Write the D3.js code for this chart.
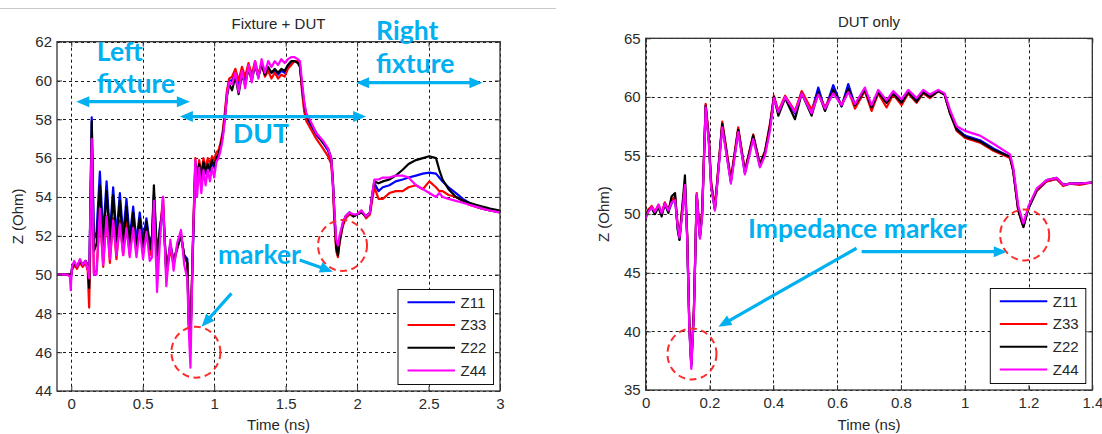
<!DOCTYPE html>
<html>
<head>
<meta charset="utf-8">
<script src="https://cdn.jsdelivr.net/npm/d3@7"></script>
<style>
  html, body { margin: 0; padding: 0; background: #fff; }
  svg { display: block; }
  .tick text { font-family: "Liberation Sans", Arial, sans-serif; font-size: 15px; fill: #2b2b2b; }
  .tick line { stroke: #333; }
</style>
</head>
<body>
<svg id="chart" width="1102" height="434"></svg>
<script>
// ---------- series names / colours ----------
const SERIES = ["Z11", "Z33", "Z22", "Z44"];
const SERIES_COLORS = ["#0000ff", "#ff0000", "#000000", "#ff00ff"];

// ---------- tick labels ----------
const LEFT_X_TICKS = [0, 0.5, 1, 1.5, 2, 2.5, 3];
const LEFT_Y_TICKS = [44, 46, 48, 50, 52, 54, 56, 58, 60, 62];
const RIGHT_X_TICKS = [0, 0.2, 0.4, 0.6, 0.8, 1, 1.2, 1.4];
const RIGHT_Y_TICKS = [35, 40, 45, 50, 55, 60, 65];

// ---------- Fixture + DUT : time (ns) ----------
const LEFT_TIME = [
  -0.100, -0.030, -0.010, -0.004, 0.005, 0.020, 0.040, 0.060, 0.080, 0.100, 0.115, 0.125,
  0.143, 0.158,
  0.177, 0.200, 0.223, 0.247, 0.270, 0.293, 0.316, 0.340, 0.363, 0.386, 0.409, 0.433, 0.456, 0.479, 0.502, 0.526, 0.549,
  0.565, 0.578, 0.600, 0.621, 0.642, 0.665, 0.693, 0.716, 0.740, 0.768, 0.790, 0.812, 0.822, 0.834, 0.850, 0.868,
  0.880, 0.895, 0.910, 0.925, 0.940, 0.955, 0.970, 0.985, 1.000, 1.015, 1.030,
  1.045, 1.060, 1.075, 1.090, 1.105,
  1.125, 1.148, 1.171, 1.194, 1.217, 1.240, 1.263, 1.286, 1.309, 1.332, 1.355, 1.378, 1.401, 1.424, 1.447, 1.470, 1.493, 1.516, 1.539, 1.562, 1.585,
  1.600, 1.615, 1.630, 1.645, 1.668, 1.714, 1.761, 1.796, 1.819, 1.830, 1.842, 1.854, 1.866, 1.877, 1.900, 1.920, 1.947, 1.975, 2.000, 2.030, 2.063, 2.090, 2.105,
  2.121, 2.150, 2.180, 2.226, 2.270, 2.319, 2.360, 2.412, 2.460, 2.505, 2.552, 2.575, 2.598, 2.640, 2.692, 2.740, 2.784, 2.830, 2.877, 2.930, 3.000
];
const LEFT_Z11 = [
  50.0, 50.0, 50.0, 49.8, 50.3, 50.6, 50.4, 50.7, 50.5, 50.7, 50.4, 49.6,
  58.1, 51.8,
  52.2, 55.3, 52.0, 54.8, 52.1, 54.5, 52.0, 54.2, 52.0, 53.9, 51.9, 53.5, 51.7, 53.2, 51.8, 52.9, 51.6,
  52.0, 54.1, 50.8, 52.5, 53.3, 50.2, 51.6, 50.7, 51.3, 52.0, 51.0, 50.8, 47.8, 46.8, 51.0, 55.5,
  54.6, 55.6, 54.9, 55.7, 55.2, 55.6, 55.3, 55.8, 55.5, 56.0, 56.2,
  56.6, 57.2, 58.2, 59.4, 60.0,
  60.0, 60.4, 59.8, 60.5, 60.0, 60.7, 60.1, 60.8, 60.2, 60.9, 60.3, 60.6, 60.4, 60.5, 60.3, 60.5, 60.4, 60.7, 60.9, 61.0, 61.0,
  60.8, 59.6, 58.6, 58.1, 57.8, 57.2, 56.8, 56.4, 55.9, 54.8, 53.0, 51.5, 51.1, 51.8, 52.6, 53.0, 53.2, 53.0, 53.1, 53.2, 53.0, 53.2, 54.0,
  54.7, 54.3, 54.5, 54.6, 54.8, 54.9, 55.0, 55.1, 55.2, 55.25, 55.2, 55.0, 54.8, 54.5, 54.2, 53.9, 53.7, 53.5, 53.4, 53.3, 53.2
];
const LEFT_Z33 = [
  50.0, 50.0, 50.0, 49.9, 50.2, 50.5, 50.3, 50.6, 50.4, 50.6, 50.2, 48.3,
  55.6, 50.1,
  50.2, 53.2, 50.4, 53.0, 50.6, 52.9, 50.8, 52.8, 51.0, 52.8, 51.0, 52.8, 51.1, 52.7, 51.2, 52.6, 51.0,
  51.5, 53.5, 50.4, 52.2, 54.0, 49.9, 51.3, 50.5, 51.3, 52.1, 50.9, 50.6, 47.6, 46.5, 51.5, 56.0,
  55.0, 55.9, 55.2, 56.0, 55.5, 56.0, 55.7, 56.1, 55.9, 56.3, 56.4,
  56.8, 57.4, 58.4, 59.5, 60.1,
  60.2, 60.6, 60.0, 60.7, 60.2, 60.9, 60.3, 61.0, 60.3, 60.9, 60.2, 60.5, 60.1, 60.4, 60.1, 60.3, 60.2, 60.6, 60.8, 61.0, 61.0,
  60.8, 59.4, 58.4, 57.9, 57.6, 57.0, 56.5, 56.1, 55.7, 54.6, 52.6, 51.2, 50.9, 51.6, 52.5, 52.9, 53.1, 53.0, 53.1, 53.3, 52.9, 53.1, 53.8,
  54.5, 53.9, 53.9, 54.2, 54.3, 54.3, 54.5, 54.6, 54.4, 54.8, 54.5, 54.3, 54.3, 54.1, 54.0, 53.8, 53.6, 53.5, 53.4, 53.3, 53.2
];
const LEFT_Z22 = [
  50.0, 50.0, 50.0, 49.8, 50.3, 50.6, 50.4, 50.7, 50.5, 50.7, 50.5, 49.3,
  57.9, 51.2,
  51.6, 54.6, 51.5, 54.3, 51.6, 54.1, 51.5, 53.8, 51.5, 53.5, 51.4, 53.2, 51.3, 52.9, 51.4, 52.7, 51.3,
  52.0, 54.6, 51.0, 52.4, 53.6, 50.1, 51.5, 50.7, 51.4, 52.0, 51.0, 50.6, 47.4, 46.6, 51.2, 55.7,
  54.7, 55.7, 55.0, 55.8, 55.3, 55.7, 55.4, 55.9, 55.6, 56.0, 56.2,
  56.6, 57.2, 58.1, 59.2, 59.8,
  59.5, 60.2, 59.3, 60.3, 59.8, 60.6, 60.0, 60.8, 60.2, 60.8, 60.3, 60.7, 60.4, 60.6, 60.4, 60.6, 60.5, 60.8, 61.0, 61.0, 60.9,
  60.7, 59.7, 58.8, 58.2, 57.9, 57.3, 56.8, 56.5, 56.0, 55.0, 53.0, 51.4, 51.0, 51.7, 52.6, 53.0, 53.2, 53.0, 53.1, 53.2, 53.0, 53.2, 54.1,
  54.8, 54.7, 54.8, 54.9, 55.1, 55.4, 55.7, 55.9, 56.0, 56.1, 56.0, 55.4, 54.9, 54.4, 54.0, 53.8, 53.7, 53.6, 53.5, 53.4, 53.3
];
const LEFT_Z44 = [
  50.0, 50.0, 49.9, 49.2, 50.4, 50.7, 50.4, 50.8, 50.5, 50.7, 50.3, 49.8,
  57.0, 50.0,
  50.0, 53.4, 50.5, 53.0, 50.8, 52.8, 51.0, 52.6, 51.0, 52.4, 50.9, 52.4, 50.9, 52.3, 50.8, 52.2, 50.7,
  50.9, 53.8, 49.1, 51.8, 54.0, 49.4, 51.8, 50.2, 51.6, 52.3, 50.5, 49.8, 47.2, 45.2, 51.3, 55.9,
  54.0, 55.5, 54.2, 55.4, 54.6, 55.4, 54.8, 55.5, 55.0, 55.8, 56.0,
  56.4, 57.0, 58.0, 59.3, 59.9,
  59.8, 60.4, 59.4, 60.5, 59.6, 60.8, 59.9, 61.0, 60.1, 61.1, 60.4, 61.0, 60.7, 61.0, 60.8, 61.1, 60.9, 61.1, 61.2, 61.2, 61.1,
  61.0, 59.9, 58.9, 58.3, 58.0, 57.3, 56.9, 56.5, 56.0, 54.8, 53.2, 51.8, 51.5, 52.0, 52.7, 53.0, 53.2, 53.1, 53.1, 53.3, 53.0, 53.2, 54.1,
  54.9, 54.9, 55.0, 55.0, 55.1, 55.1, 55.0, 54.6, 54.4, 54.2, 54.0, 54.2, 54.0, 53.9, 53.8, 53.7, 53.6, 53.5, 53.4, 53.3, 53.2
];

// ---------- DUT only : time (ns) ----------
const RIGHT_TIME = [
  0.000, 0.008, 0.019, 0.029, 0.040, 0.050, 0.060, 0.071, 0.081, 0.092,
  0.100, 0.106, 0.113, 0.123, 0.130, 0.137, 0.143, 0.151, 0.160, 0.170,
  0.177, 0.188, 0.198, 0.205, 0.217,
  0.240, 0.267, 0.290, 0.311, 0.337, 0.358, 0.374, 0.390, 0.402, 0.416,
  0.437, 0.468, 0.489, 0.520, 0.541, 0.562, 0.588, 0.614, 0.635, 0.656,
  0.687, 0.708, 0.729, 0.755, 0.776, 0.802, 0.823, 0.849, 0.870, 0.891,
  0.917, 0.937, 0.954, 0.975, 1.001, 1.048, 1.090, 1.142, 1.152, 1.168,
  1.184, 1.200, 1.226, 1.257, 1.288, 1.309, 1.330, 1.360, 1.400
];
const RIGHT_Z11 = [
  49.8, 50.3, 50.6, 50.1, 50.7, 50.0, 50.9, 50.2, 50.9, 51.4,
  48.9, 47.9, 49.8, 52.4, 48.0, 40.2, 37.0, 41.5, 51.5, 48.0,
  50.0, 59.3, 56.2, 52.6, 50.4,
  57.6, 52.8, 57.2, 53.5, 56.6, 54.1, 55.2, 57.5, 60.0, 58.6,
  60.0, 58.6, 60.4, 58.7, 60.8, 58.9, 61.0, 59.2, 61.1, 59.3,
  60.6, 59.1, 60.4, 59.5, 60.3, 59.6, 60.4, 59.7, 60.4, 60.0,
  60.5, 60.2, 58.7, 57.3, 56.7, 56.3, 55.6, 54.9, 53.8, 50.4,
  49.0, 50.5, 52.0, 52.8, 53.0, 52.5, 52.6, 52.6, 52.7
];
const RIGHT_Z33 = [
  49.9, 50.4, 50.7, 50.2, 50.8, 50.1, 51.0, 50.4, 51.2, 51.5,
  49.2, 48.1, 50.2, 52.6, 48.3, 40.4, 37.3, 41.8, 51.8, 48.2,
  50.3, 59.4, 56.6, 52.8, 50.6,
  57.9, 53.0, 57.4, 53.7, 56.8, 54.3, 55.4, 57.8, 60.1, 58.8,
  60.1, 58.8, 60.5, 58.9, 60.3, 59.1, 60.5, 59.3, 60.6, 59.0,
  60.5, 58.8, 60.3, 59.1, 60.2, 59.3, 60.3, 59.5, 60.3, 59.9,
  60.5, 60.2, 58.6, 57.1, 56.5, 56.1, 55.4, 54.8, 53.7, 50.3,
  48.9, 50.6, 52.0, 52.8, 53.0, 52.4, 52.6, 52.5, 52.7
];
const RIGHT_Z22 = [
  49.8, 50.3, 50.5, 50.0, 50.6, 49.8, 50.9, 50.1, 51.5, 51.8,
  48.7, 47.8, 50.0, 53.3, 48.2, 40.3, 37.2, 41.7, 51.6, 48.1,
  50.1, 59.2, 56.3, 52.5, 50.4,
  57.7, 52.8, 57.2, 53.6, 56.7, 54.2, 55.3, 57.6, 60.0, 58.4,
  59.9, 58.1, 60.3, 58.4, 60.4, 58.8, 60.6, 59.2, 60.7, 59.3,
  60.6, 59.1, 60.4, 59.5, 60.3, 59.5, 60.4, 59.6, 60.4, 60.0,
  60.5, 60.2, 58.6, 57.2, 56.6, 56.2, 55.5, 54.9, 53.7, 50.3,
  48.9, 50.5, 52.1, 52.9, 53.1, 52.5, 52.6, 52.6, 52.7
];
const RIGHT_Z44 = [
  49.6, 50.2, 50.6, 50.2, 50.8, 50.1, 50.9, 50.3, 51.0, 51.2,
  49.0, 48.0, 49.6, 52.5, 47.9, 40.0, 36.8, 41.5, 51.7, 47.9,
  49.8, 59.1, 56.0, 52.3, 50.3,
  57.4, 52.6, 57.0, 53.4, 56.4, 54.0, 55.0, 57.2, 59.9, 58.7,
  60.0, 58.7, 60.3, 58.6, 60.2, 59.0, 60.3, 59.3, 60.4, 59.4,
  60.8, 59.3, 60.6, 59.7, 60.5, 59.8, 60.6, 59.9, 60.6, 60.2,
  60.6, 60.3, 58.9, 57.5, 57.1, 56.7, 56.0, 55.1, 54.0, 50.7,
  49.2, 50.7, 52.2, 52.9, 53.1, 52.5, 52.6, 52.6, 52.7
];

// ---------- annotation anchors, in data units (time ns, ohm) ----------
const LEFT_NOTES = [
  { text: "Left", t: 0.179, z: 61.0 },
  { text: "fixture", t: 0.179, z: 59.34 },
  { text: "DUT", t: 1.132, z: 56.76 },
  { text: "Right", t: 2.133, z: 62.09 },
  { text: "fixture", t: 2.133, z: 60.37 },
  { text: "marker", t: 1.026, z: 50.53 }
];
const LEFT_ARROWS = [
  { from: [0.035, 58.91], to: [0.830, 58.91], both: true },
  { from: [0.760, 58.14], to: [2.063, 58.14], both: true },
  { from: [1.993, 59.89], to: [2.877, 59.89], both: true },
  { from: [1.598, 50.75], to: [1.830, 50.15], both: false },
  { from: [1.121, 49.03], to: [0.912, 47.31], both: false }
];
const LEFT_RINGS = [ { t: 0.872, z: 46.0 }, { t: 1.898, z: 51.5 } ];

const RIGHT_NOTES = [ { text: "Impedance marker", t: 0.321, z: 47.94 } ];
const RIGHT_ARROWS = [
  { from: [0.661, 47.09], to: [0.228, 40.40], both: false },
  { from: [0.677, 46.80], to: [1.132, 46.80], both: false }
];
const RIGHT_RINGS = [ { t: 0.145, z: 38.07 }, { t: 1.188, z: 48.22 } ];

// ---------- drawing ----------
const svg = d3.select("#chart");
const FONT = '"Liberation Sans", Arial, sans-serif';
const NOTE_COLOR = "#00b0f0";
const NOTE_FONT = 'Lato, "Open Sans", sans-serif';

// thin rule across the top of the first figure
svg.append("line").attr("x1", 0).attr("x2", 556).attr("y1", 8.5).attr("y2", 8.5)
  .attr("stroke", "#c8c8c8").attr("stroke-width", 1);

function drawArrow(g, p0, p1, both) {
  const dx = p1[0] - p0[0], dy = p1[1] - p0[1];
  const len = Math.hypot(dx, dy), ux = dx / len, uy = dy / len;
  const headL = 13, headW = 5.5;
  const s0 = both ? [p0[0] + ux * headL * 0.8, p0[1] + uy * headL * 0.8] : p0;
  const s1 = [p1[0] - ux * headL * 0.8, p1[1] - uy * headL * 0.8];
  g.append("line").attr("x1", s0[0]).attr("y1", s0[1]).attr("x2", s1[0]).attr("y2", s1[1])
    .attr("stroke", NOTE_COLOR).attr("stroke-width", 3.2);
  const head = (tip, dirx, diry) => {
    const bx = tip[0] - dirx * headL, by = tip[1] - diry * headL;
    const px = -diry * headW, py = dirx * headW;
    g.append("path")
      .attr("d", `M${tip[0]},${tip[1]}L${bx + px},${by + py}L${bx - px},${by - py}Z`)
      .attr("fill", NOTE_COLOR);
  };
  head(p1, ux, uy);
  if (both) head(p0, -ux, -uy);
}

function drawPanel(cfg) {
  const g = svg.append("g");
  const x = d3.scaleLinear().domain(cfg.xDomain).range([cfg.left, cfg.right]);
  const y = d3.scaleLinear().domain(cfg.yDomain).range([cfg.bottom, cfg.top]);

  // plot background
  g.append("rect").attr("x", cfg.left).attr("y", cfg.top)
    .attr("width", cfg.right - cfg.left).attr("height", cfg.bottom - cfg.top).attr("fill", "#fff");

  // dotted grid
  const grid = g.append("g").attr("stroke", "#1a1a1a").attr("stroke-width", 1).attr("stroke-dasharray", "3,3");
  grid.selectAll(".gx").data(cfg.xTicks).join("line")
    .attr("x1", d => Math.round(x(d)) + 0.5).attr("x2", d => Math.round(x(d)) + 0.5)
    .attr("y1", cfg.top).attr("y2", cfg.bottom);
  grid.selectAll(".gy").data(cfg.yTicks).join("line")
    .attr("y1", d => Math.round(y(d)) + 0.5).attr("y2", d => Math.round(y(d)) + 0.5)
    .attr("x1", cfg.left).attr("x2", cfg.right);

  // traces
  const clipId = "clip-" + cfg.id;
  g.append("clipPath").attr("id", clipId).append("rect")
    .attr("x", cfg.left).attr("y", cfg.top)
    .attr("width", cfg.right - cfg.left).attr("height", cfg.bottom - cfg.top);
  const line = d3.line().x(d => x(d[0])).y(d => y(d[1]));
  const traces = g.append("g").attr("clip-path", `url(#${clipId})`);
  cfg.series.forEach((vals, i) => {
    traces.append("path")
      .datum(cfg.time.map((t, k) => [t, vals[k]]))
      .attr("d", line)
      .attr("fill", "none")
      .attr("stroke", SERIES_COLORS[i])
      .attr("stroke-width", 2.2)
      .attr("stroke-linejoin", "round");
  });

  // axes with inward ticks
  const fmt = d3.format("~g");
  const ax = g.append("g").attr("transform", `translate(0,${cfg.bottom})`)
    .call(d3.axisBottom(x).tickValues(cfg.xTicks).tickFormat(fmt).tickSizeInner(-5).tickSizeOuter(0).tickPadding(7));
  const ay = g.append("g").attr("transform", `translate(${cfg.left},0)`)
    .call(d3.axisLeft(y).tickValues(cfg.yTicks).tickFormat(fmt).tickSizeInner(-5).tickSizeOuter(0).tickPadding(5));
  const at = g.append("g").attr("transform", `translate(0,${cfg.top})`)
    .call(d3.axisTop(x).tickValues(cfg.xTicks).tickFormat("").tickSizeInner(-5).tickSizeOuter(0));
  const ar = g.append("g").attr("transform", `translate(${cfg.right},0)`)
    .call(d3.axisRight(y).tickValues(cfg.yTicks).tickFormat("").tickSizeInner(-5).tickSizeOuter(0));
  [ax, ay, at, ar].forEach(a => { a.select(".domain").remove(); a.selectAll(".tick line").attr("stroke", "#333"); });
  ax.selectAll("text").attr("font-family", FONT).attr("font-size", 15);
  ay.selectAll("text").attr("font-family", FONT).attr("font-size", 15);

  // frame
  g.append("rect").attr("x", cfg.left).attr("y", cfg.top)
    .attr("width", cfg.right - cfg.left).attr("height", cfg.bottom - cfg.top)
    .attr("fill", "none").attr("stroke", "#333").attr("stroke-width", 1.3);

  // title and axis labels
  const cx = (cfg.left + cfg.right) / 2;
  g.append("text").attr("x", cx).attr("y", cfg.titleY).attr("text-anchor", "middle")
    .attr("font-family", FONT).attr("font-size", 15).attr("fill", "#262626").text(cfg.title);
  g.append("text").attr("x", cx).attr("y", 430).attr("text-anchor", "middle")
    .attr("font-family", FONT).attr("font-size", 15).attr("fill", "#262626").text("Time (ns)");
  g.append("text")
    .attr("transform", `translate(${cfg.ylabelX},${(cfg.top + cfg.bottom) / 2}) rotate(-90)`)
    .attr("text-anchor", "middle")
    .attr("font-family", FONT).attr("font-size", 15).attr("fill", "#262626").text("Z (Ohm)");

  // legend, lower right
  const lw = 95.5, lh = 95, pad = 6.5;
  const lg = g.append("g").attr("transform", `translate(${cfg.right - pad - lw},${cfg.bottom - pad - lh})`);
  lg.append("rect").attr("width", lw).attr("height", lh).attr("fill", "#fff")
    .attr("stroke", "#111").attr("stroke-width", 1);
  SERIES.forEach((name, i) => {
    const yy = 12.7 + i * 22.8;
    lg.append("line").attr("x1", 9.5).attr("x2", 57).attr("y1", yy).attr("y2", yy)
      .attr("stroke", SERIES_COLORS[i]).attr("stroke-width", 2);
    lg.append("text").attr("x", 62.5).attr("y", yy).attr("dy", "0.36em")
      .attr("font-family", FONT).attr("font-size", 15).attr("fill", "#262626").text(name);
  });

  // annotations
  const notes = g.append("g");
  cfg.rings.forEach(r => {
    notes.append("ellipse").attr("cx", x(r.t)).attr("cy", y(r.z)).attr("rx", 24.5).attr("ry", 25.5)
      .attr("fill", "none").attr("stroke", "#ff2a2a").attr("stroke-width", 2).attr("stroke-dasharray", "7,4.5");
  });
  cfg.arrows.forEach(a => drawArrow(notes, [x(a.from[0]), y(a.from[1])], [x(a.to[0]), y(a.to[1])], a.both));
  cfg.notes.forEach(n => {
    notes.append("text").attr("x", x(n.t)).attr("y", y(n.z))
      .attr("font-family", NOTE_FONT).attr("font-weight", 700).attr("font-size", 26.5)
      .attr("fill", NOTE_COLOR).text(n.text);
  });
}

drawPanel({
  id: "fixture", title: "Fixture + DUT", titleY: 29, ylabelX: 23,
  left: 57, right: 500, top: 41.7, bottom: 391,
  xDomain: [-0.1, 3], yDomain: [44, 62],
  xTicks: LEFT_X_TICKS, yTicks: LEFT_Y_TICKS,
  time: LEFT_TIME, series: [LEFT_Z11, LEFT_Z33, LEFT_Z22, LEFT_Z44],
  notes: LEFT_NOTES, arrows: LEFT_ARROWS, rings: LEFT_RINGS
});

drawPanel({
  id: "dut", title: "DUT only", titleY: 27, ylabelX: 609,
  left: 645.7, right: 1092.3, top: 38.3, bottom: 390,
  xDomain: [0, 1.4], yDomain: [35, 65],
  xTicks: RIGHT_X_TICKS, yTicks: RIGHT_Y_TICKS,
  time: RIGHT_TIME, series: [RIGHT_Z11, RIGHT_Z33, RIGHT_Z22, RIGHT_Z44],
  notes: RIGHT_NOTES, arrows: RIGHT_ARROWS, rings: RIGHT_RINGS
});
</script>
</body>
</html>
